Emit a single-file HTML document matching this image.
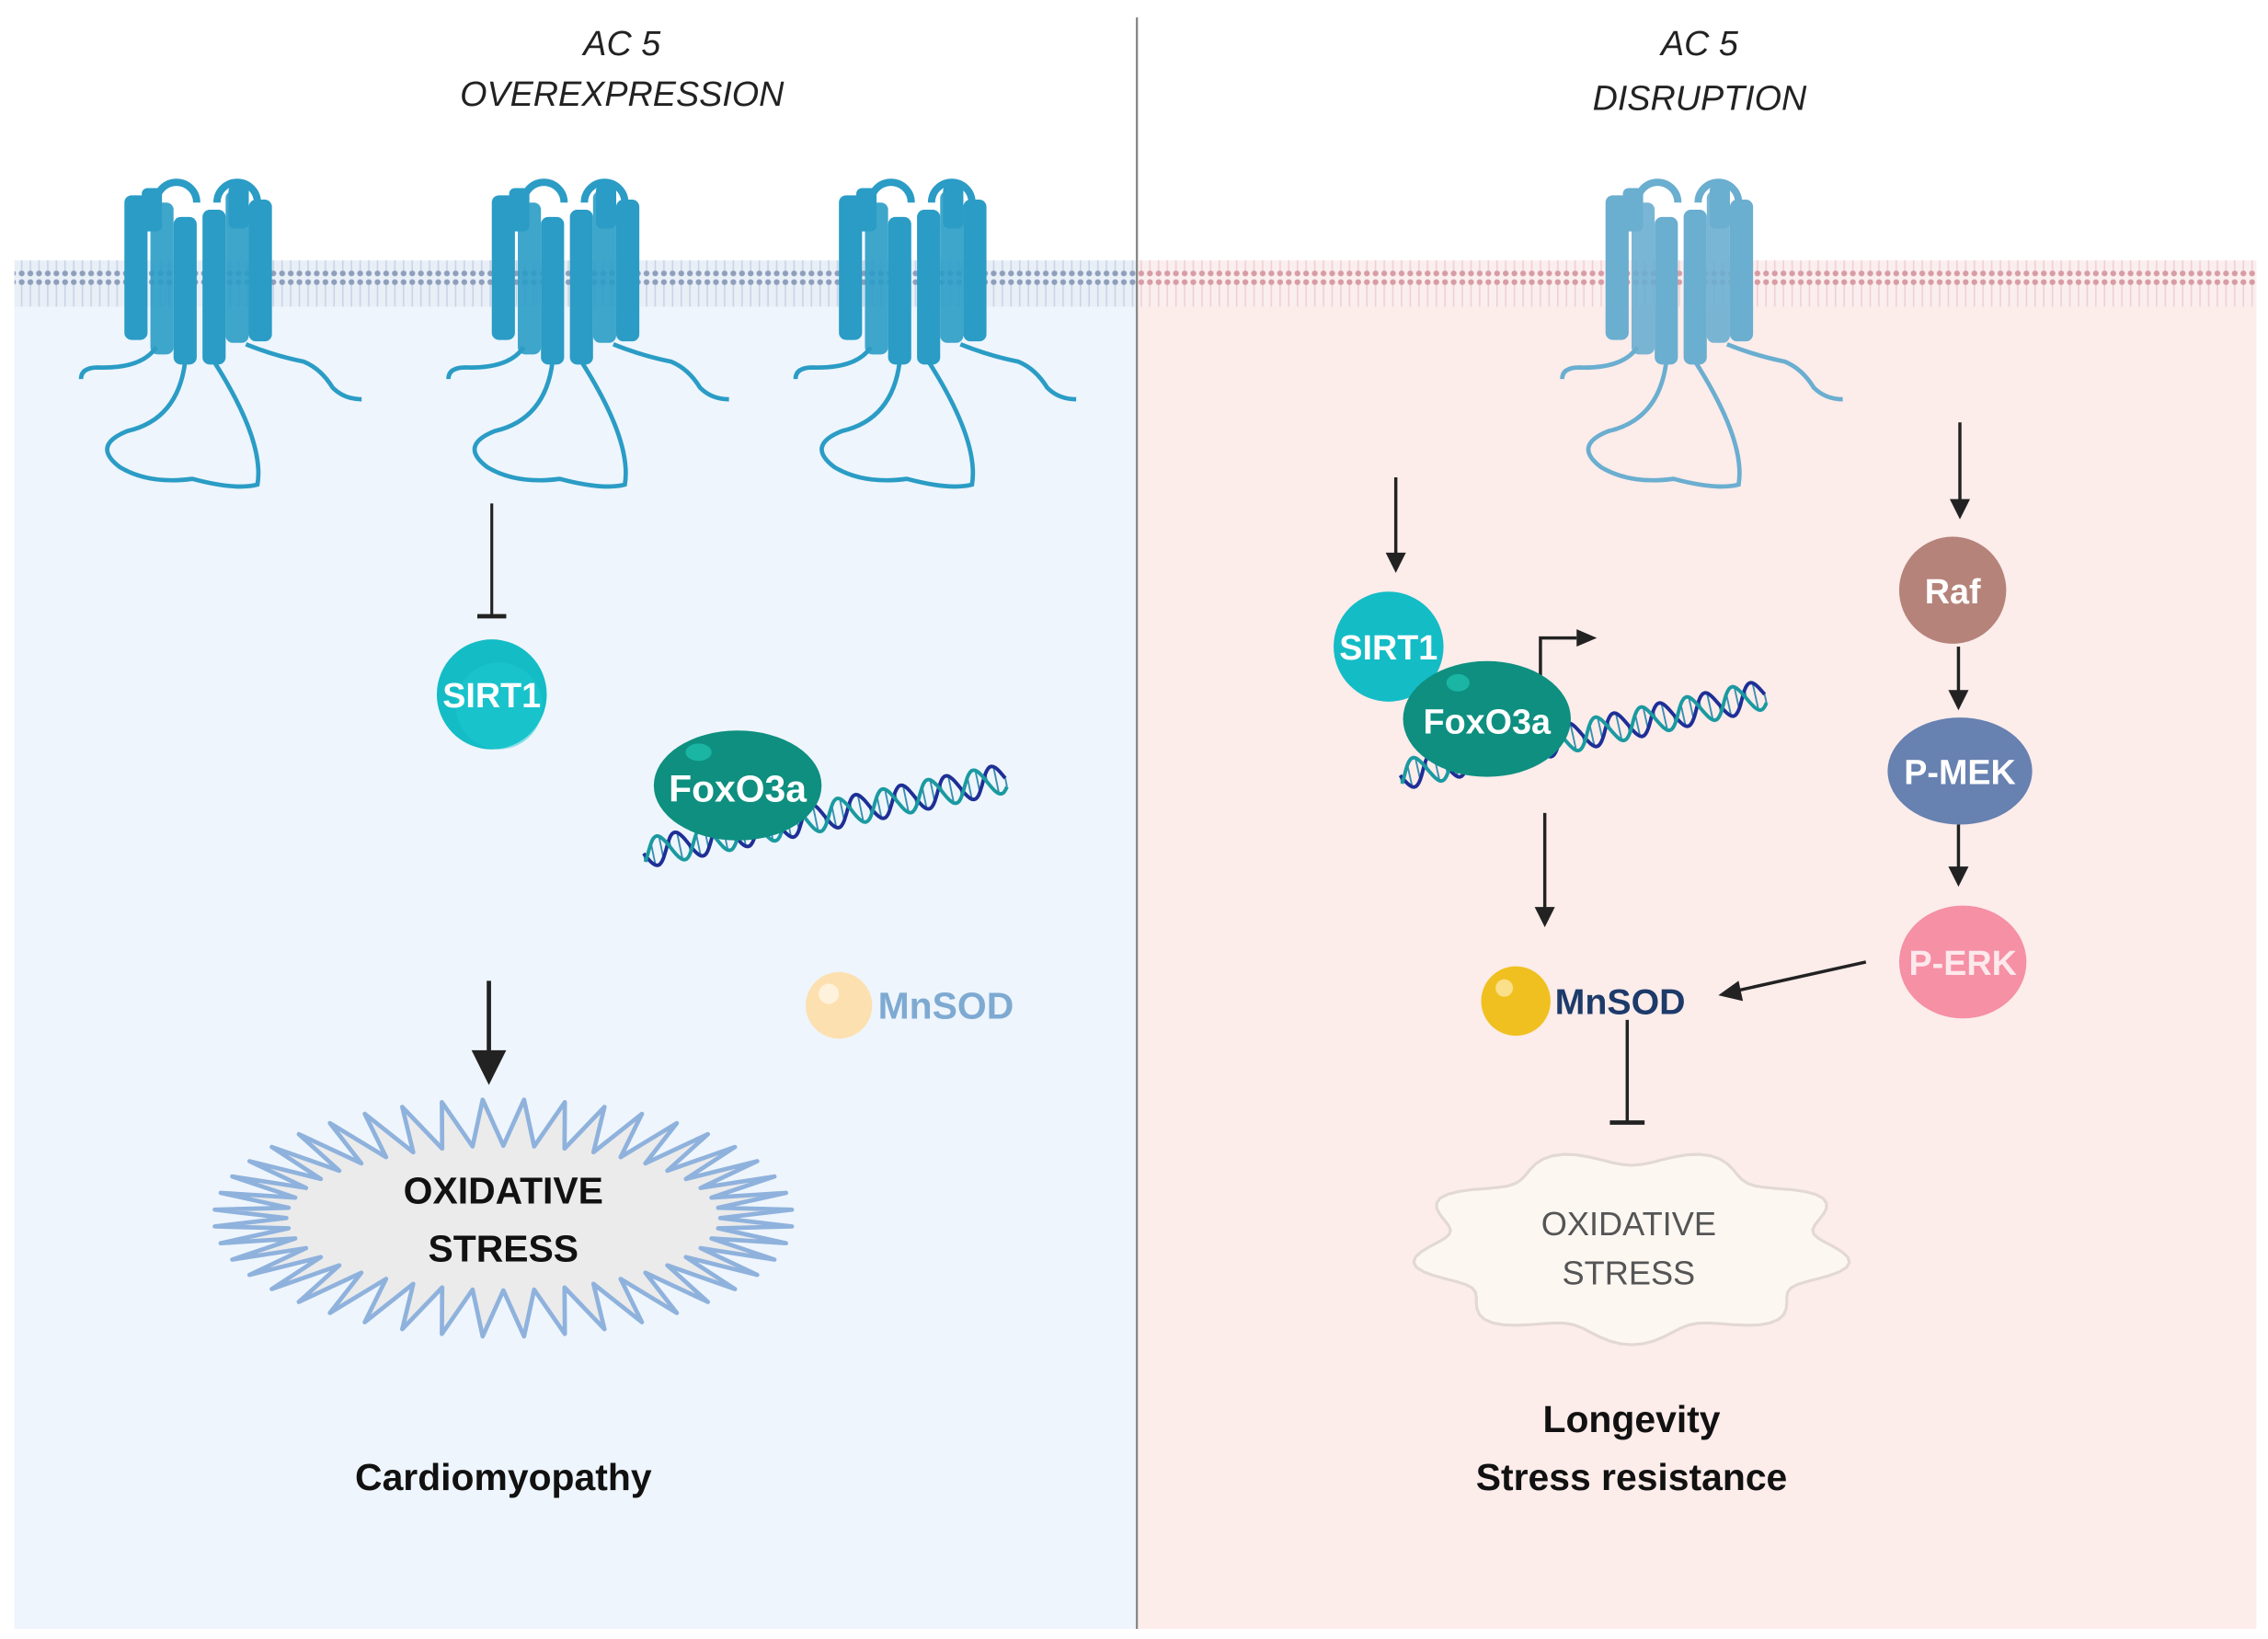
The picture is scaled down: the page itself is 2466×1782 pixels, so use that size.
<!DOCTYPE html>
<html><head><meta charset="utf-8"><style>
html,body{margin:0;padding:0;background:#fff}
svg{display:block}
text{font-family:"Liberation Sans",Arial,sans-serif}
</style></head><body>
<svg id="s" width="2466" height="1782" viewBox="0 0 1568 1133" preserveAspectRatio="none">
<defs>
<pattern id="memL" width="6" height="32" patternUnits="userSpaceOnUse">
<rect width="6" height="32" fill="#e9eff7"/>
<circle cx="3" cy="3" r="2" fill="#8e9fbc"/><circle cx="3" cy="29" r="2" fill="#8e9fbc"/>
<line x1="3" y1="5" x2="3" y2="27" stroke="#c8d4e6" stroke-width="1"/>
</pattern>
<pattern id="memR" width="6" height="32" patternUnits="userSpaceOnUse">
<rect width="6" height="32" fill="#fbeeee"/>
<circle cx="3" cy="3" r="2" fill="#d79ca4"/><circle cx="3" cy="29" r="2" fill="#d79ca4"/>
<line x1="3" y1="5" x2="3" y2="27" stroke="#f0d0d4" stroke-width="1"/>
</pattern>
<g id="rec">
<path d="M-30,-40 a14,14 0 0 1 28,0 M12,-40 a14,14 0 0 1 28,0" fill="none" stroke="currentColor" stroke-width="5"/>
<rect x="-52" y="-45" width="16" height="100" rx="5" fill="currentColor"/>
<rect x="-34" y="-40" width="16" height="105" rx="5" fill="currentColor" opacity="0.9"/>
<rect x="-18" y="-30" width="16" height="102" rx="5" fill="currentColor"/>
<rect x="2" y="-35" width="16" height="107" rx="5" fill="currentColor"/>
<rect x="18" y="-48" width="16" height="105" rx="5" fill="currentColor" opacity="0.9"/>
<rect x="34" y="-42" width="16" height="98" rx="5" fill="currentColor"/>
<rect x="-40" y="-50" width="14" height="30" rx="4" fill="currentColor"/>
<rect x="20" y="-52" width="14" height="30" rx="4" fill="currentColor"/>
<g fill="none" stroke="currentColor" stroke-width="3">
<path d="M-30,60 q-10,15 -40,14 q-12,0 -12,8"/>
<path d="M32,58 q20,8 40,12 q12,5 20,18 q8,8 20,8"/>
<path d="M-10,70 q-5,40 -40,48 q-25,10 -5,25 q20,12 50,8 q30,8 45,4 q5,-30 -30,-85"/>
</g>
</g>
</defs>
<rect x="10" y="190" width="776" height="936" fill="#eef5fc"/>
<rect x="787" y="190" width="773" height="936" fill="#fcecea"/>
<rect x="10" y="180" width="776" height="32" fill="url(#memL)"/>
<rect x="787" y="180" width="773" height="32" fill="url(#memR)"/>
<line x1="786" y1="12" x2="786" y2="1126" stroke="#888" stroke-width="1.5"/>

<g font-style="italic" font-size="24" fill="#222" text-anchor="middle">
<text x="430" y="38">AC 5</text><text x="430" y="73">OVEREXPRESSION</text>
<text x="1175" y="38">AC 5</text><text x="1175" y="76">DISRUPTION</text>
</g>

<use href="#rec" x="138" y="180" style="color:#2a9cc5"/>
<use href="#rec" x="392" y="180" style="color:#2a9cc5"/>
<use href="#rec" x="632" y="180" style="color:#2a9cc5"/>
<use href="#rec" x="1162" y="180" style="color:#6aaed0"/>

<line x1="340" y1="348" x2="340" y2="426" stroke="#222" stroke-width="2"/>
<line x1="330" y1="426" x2="350" y2="426" stroke="#222" stroke-width="3"/>
<circle cx="340" cy="480" r="38" fill="#14bcc6"/>
<circle cx="345" cy="488" r="30" fill="#1ecad2" opacity="0.5"/>
<text x="340" y="489" font-size="24" font-weight="bold" fill="#fff" text-anchor="middle">SIRT1</text>
<g id="dnaL" fill="none" stroke-width="2.5"></g>
<ellipse cx="510" cy="543" rx="58" ry="38" fill="#0e8f80"/>
<ellipse cx="483" cy="520" rx="9" ry="6" fill="#1ab5a3"/>
<text x="510" y="554" font-size="26" font-weight="bold" fill="#fff" text-anchor="middle">FoxO3a</text>
<circle cx="580" cy="695" r="23" fill="#fde0b0"/>
<circle cx="573" cy="687" r="7" fill="#fff2dc"/>
<text x="607" y="704" font-size="26" font-weight="bold" fill="#7eaad2">MnSOD</text>
<line x1="338" y1="678" x2="338" y2="730" stroke="#222" stroke-width="3"/>
<polygon points="326,726 350,726 338,750" fill="#222"/>
<path id="spk" d="" fill="#ebebeb" stroke="#8fb2dd" stroke-width="3" stroke-linejoin="round"/>
<g font-size="26" font-weight="bold" fill="#111" text-anchor="middle">
<text x="348" y="832">OXIDATIVE</text><text x="348" y="872">STRESS</text>
<text x="348" y="1030">Cardiomyopathy</text>
</g>

<g stroke="#222" stroke-width="2.2" fill="#222">
<line x1="965" y1="330" x2="965" y2="385"/><polygon points="958,382 972,382 965,396" stroke="none"/>
<line x1="1355" y1="292" x2="1355" y2="348"/><polygon points="1348,345 1362,345 1355,359" stroke="none"/>
<line x1="1354" y1="447" x2="1354" y2="480"/><polygon points="1347,477 1361,477 1354,491" stroke="none"/>
<line x1="1354" y1="570" x2="1354" y2="602"/><polygon points="1347,599 1361,599 1354,613" stroke="none"/>
<line x1="1068" y1="562" x2="1068" y2="630"/><polygon points="1061,627 1075,627 1068,641" stroke="none"/>
<line x1="1290" y1="665" x2="1200" y2="685"/><polygon points="1188,688 1202,678 1205,692" stroke="none"/>
<polyline points="1065,470 1065,441 1090,441" fill="none"/><polygon points="1090,435 1104,441 1090,447" stroke="none"/>
<line x1="1125" y1="705" x2="1125" y2="776"/>
</g>
<line x1="1113" y1="776" x2="1137" y2="776" stroke="#222" stroke-width="3"/>
<g id="dnaR" fill="none" stroke-width="2.5"></g>
<circle cx="960" cy="447" r="38" fill="#14bcc6"/>
<text x="960" y="456" font-size="24" font-weight="bold" fill="#fff" text-anchor="middle">SIRT1</text>
<ellipse cx="1028" cy="497" rx="58" ry="40" fill="#0e8f80"/>
<ellipse cx="1008" cy="472" rx="8" ry="6" fill="#1ab5a3"/>
<text x="1028" y="507" font-size="24" font-weight="bold" fill="#fff" text-anchor="middle">FoxO3a</text>
<circle cx="1350" cy="408" r="37" fill="#b5837a"/>
<text x="1350" y="417" font-size="24" font-weight="bold" fill="#fff" text-anchor="middle">Raf</text>
<ellipse cx="1355" cy="533" rx="50" ry="37" fill="#6781b0"/>
<text x="1355" y="542" font-size="24" font-weight="bold" fill="#fff" text-anchor="middle">P-MEK</text>
<ellipse cx="1357" cy="665" rx="44" ry="39" fill="#f590a5"/>
<text x="1357" y="674" font-size="24" font-weight="bold" fill="#fde8ec" text-anchor="middle">P-ERK</text>
<circle cx="1048" cy="692" r="24" fill="#f0c020"/>
<circle cx="1040" cy="683" r="6" fill="#fae08a"/>
<text x="1075" y="701" font-size="25" font-weight="bold" fill="#1d3b6a">MnSOD</text>
<path id="blob" d="" fill="#fdf7f2" stroke="#e2d8d4" stroke-width="2"/>
<g font-size="23" fill="#555" text-anchor="middle">
<text x="1126" y="854">OXIDATIVE</text><text x="1126" y="888">STRESS</text>
</g>
<g font-size="26" font-weight="bold" fill="#111" text-anchor="middle">
<text x="1128" y="990">Longevity</text><text x="1128" y="1030">Stress resistance</text>
</g>
</svg>
<script>
(function(){
var NS="http://www.w3.org/2000/svg";
var cx=348,cy=842,ra=150,rb=50,Ra=200,Rb=82,n=44,d="";
for(var i=0;i<n;i++){
 var a0=(i/n)*2*Math.PI, am=((i+0.5)/n)*2*Math.PI;
 var x0=cx+ra*Math.cos(a0),y0=cy+rb*Math.sin(a0);
 var x1=cx+Ra*Math.cos(am),y1=cy+Rb*Math.sin(am);
 d+=(i?"L":"M")+x0.toFixed(1)+","+y0.toFixed(1)+"L"+x1.toFixed(1)+","+y1.toFixed(1);
}
document.getElementById("spk").setAttribute("d",d+"Z");
var bx=1128,by=862,d2="";
for(var j=0;j<=120;j++){
 var t=j/120*2*Math.PI;
 var r=1+0.09*Math.sin(t*9);
 var x=bx+140*r*Math.cos(t), y=by+62*r*Math.sin(t);
 d2+=(j?"L":"M")+x.toFixed(1)+","+y.toFixed(1);
}
document.getElementById("blob").setAttribute("d",d2+"Z");
function dna(g,x1,y1,x2,y2,turns){
 var el=document.getElementById(g);
 var dx=x2-x1,dy=y2-y1,L=Math.sqrt(dx*dx+dy*dy),ux=dx/L,uy=dy/L,nx=-uy,ny=ux;
 var N=200,p1="",p2="";
 for(var k=0;k<=N;k++){
  var s=k/N,ph=s*turns*2*Math.PI,a=10*Math.sin(ph),b=10*Math.sin(ph+Math.PI*0.8);
  var bx=x1+dx*s,by=y1+dy*s;
  p1+=(k?"L":"M")+(bx+nx*a).toFixed(1)+","+(by+ny*a).toFixed(1);
  p2+=(k?"L":"M")+(bx+nx*b).toFixed(1)+","+(by+ny*b).toFixed(1);
  if(k%5==0){var ln=document.createElementNS(NS,"line");
   ln.setAttribute("x1",bx+nx*a);ln.setAttribute("y1",by+ny*a);ln.setAttribute("x2",bx+nx*b);ln.setAttribute("y2",by+ny*b);
   ln.setAttribute("stroke","#3a8fb0");ln.setAttribute("stroke-width","1.2");el.appendChild(ln);}
 }
 var a1=document.createElementNS(NS,"path");a1.setAttribute("d",p1);a1.setAttribute("stroke","#1e2f96");el.appendChild(a1);
 var a2=document.createElementNS(NS,"path");a2.setAttribute("d",p2);a2.setAttribute("stroke","#1a9aa0");el.appendChild(a2);
}
dna("dnaL",445,590,695,538,8);
dna("dnaR",968,536,1220,480,8);
})();
</script>
</body></html>
